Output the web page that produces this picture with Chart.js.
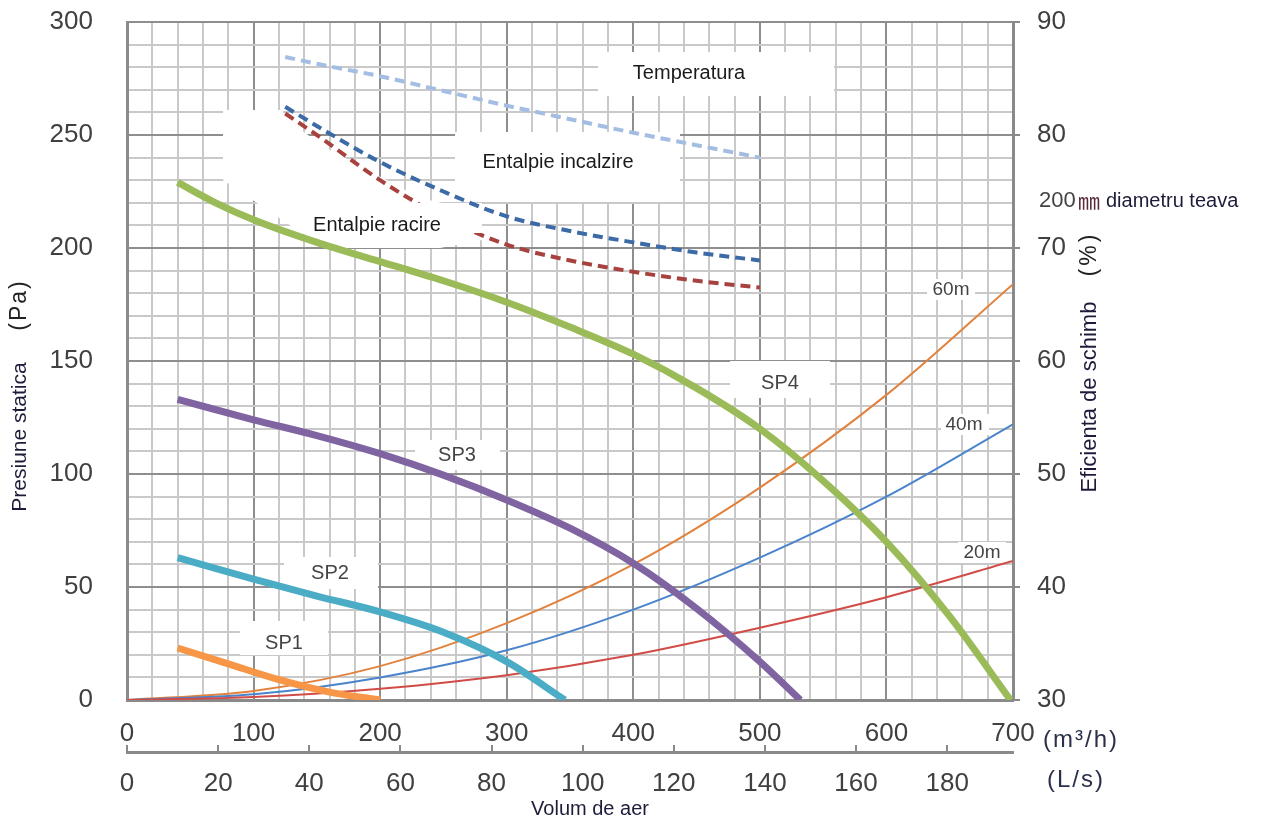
<!DOCTYPE html>
<html>
<head>
<meta charset="utf-8">
<script src="https://cdn.jsdelivr.net/npm/chart.js@4.4.1/dist/chart.umd.min.js"></script>
<style>
  html, body { margin: 0; padding: 0; background: #fff; }
  #wrap { width: 1267px; height: 819px; }
</style>
</head>
<body>
<div id="wrap"><canvas id="chart" width="1267" height="819"></canvas></div>
<script>
// ===================================================================
// date citite de pe grafic
// debit aer (m3/h) -> presiune statica (Pa)
const sp1Flow = [40, 80, 120, 160, 200];
const sp1Pa   = [23, 16, 9, 3.5, 0];
const sp2Flow = [40, 100, 150, 200, 250, 300, 346];
const sp2Pa   = [63, 53.5, 46, 39, 30, 17, 0];
const sp3Flow = [40, 100, 150, 200, 250, 300, 350, 400, 450, 500, 532];
const sp3Pa   = [133, 124, 117, 109, 99.5, 88.5, 76, 60.5, 40.5, 17, 0];
const sp4Flow = [40, 70, 100, 150, 200, 250, 300, 350, 400, 450, 500, 550, 600, 650, 698];
const sp4Pa   = [229, 220, 212.5, 202.5, 194, 185.5, 176, 165, 153, 138, 120, 97, 70, 37, 0];

// pierderi teava 200mm (Pa)
const pipeFlow = [0, 100, 200, 300, 400, 500, 600, 700];
const pipe20m  = [0, 1.3, 5, 11, 20, 32, 45.5, 61.5];
const pipe40m  = [0, 2.5, 10, 22, 40, 63, 90, 122];
const pipe60m  = [0, 4, 15, 34, 60, 94, 135, 184];

// eficienta de schimb (%)
const effFlow = [125, 150, 200, 250, 300, 350, 400, 450, 500];
const tempEff = [86.9, 86.3, 85.2, 83.9, 82.6, 81.4, 80.2, 79.1, 78];
const heatEff = [82.5, 80.8, 77.6, 75, 72.8, 71.5, 70.5, 69.6, 68.9];
const coolEff = [81.9, 80, 76, 72.7, 70.3, 68.9, 67.9, 67.1, 66.5];

// etichete axe
const paLabels   = [0, 50, 100, 150, 200, 250, 300];
const flowLabels = [0, 100, 200, 300, 400, 500, 600, 700];
const effLabels  = [30, 40, 50, 60, 70, 80, 90];
const lsLabels   = [0, 20, 40, 60, 80, 100, 120, 140, 160, 180];

const FONT = '"Liberation Sans", Arial, sans-serif';

function pts(xs, ys) {
  return xs.map(function(x, i) { return { x: x, y: ys[i] }; });
}

function solid(label, xs, ys, color, width) {
  return {
    label: label, data: pts(xs, ys), borderColor: color, borderWidth: width,
    pointRadius: 0, cubicInterpolationMode: 'monotone', fill: false,
    xAxisID: 'x', yAxisID: 'y'
  };
}

function dashed(label, xs, ys, color) {
  return {
    label: label, data: pts(xs, ys), borderColor: color, borderWidth: 4,
    borderDash: [10, 6], pointRadius: 0, cubicInterpolationMode: 'monotone',
    fill: false, xAxisID: 'x', yAxisID: 'y2'
  };
}

// ===================================================================
// casete albe si texte
function box(c, x, y, w, h) { c.fillRect(x, y, w, h); }

function text(c, str, x, y, size, color, align, spacing, family) {
  c.font = size + 'px ' + (family || FONT);
  c.fillStyle = color;
  c.textAlign = align || 'center';
  c.textBaseline = 'middle';
  c.letterSpacing = spacing || '0px';
  c.fillText(str, x, y);
  c.letterSpacing = '0px';
}

function vtext(c, str, x, y, size, color, spacing) {
  c.save();
  c.translate(x, y);
  c.rotate(-Math.PI / 2);
  text(c, str, 0, 0, size, color, 'center', spacing);
  c.restore();
}

const notes = {
  id: 'notes',
  beforeDatasetsDraw: function(chart) {
    const c = chart.ctx;
    c.save();
    c.fillStyle = '#fff';
    // pata alba din stanga sus
    c.beginPath();
    c.moveTo(223, 110); c.lineTo(283, 110); c.lineTo(283, 118);
    c.lineTo(330, 150); c.lineTo(420, 198); c.lineTo(482, 212);
    c.lineTo(482, 240); c.lineTo(440, 248); c.lineTo(330, 248);
    c.lineTo(300, 232); c.lineTo(223, 180);
    c.closePath(); c.fill();
    box(c, 598, 52, 236, 44);   // Temperatura
    box(c, 455, 132, 225, 70);  // Entalpie incalzire
    box(c, 730, 361, 100, 37);  // SP4
    box(c, 415, 440, 85, 30);   // SP3
    box(c, 284, 557, 94, 32);   // SP2
    box(c, 240, 621, 88, 34);   // SP1
    box(c, 927, 279, 48, 21);   // 60m
    box(c, 941, 414, 48, 21);   // 40m
    box(c, 958, 542, 48, 21);   // 20m
    c.restore();
  },
  afterDatasetDraw: function(chart, args) {
    if (args.index !== 9) return;
    // caseta peste linia de racire
    const c = chart.ctx;
    c.save();
    c.fillStyle = '#fff';
    box(c, 300, 203, 182, 30);
    c.restore();
  },
  afterDatasetsDraw: function(chart) {
    const c = chart.ctx;
    c.save();
    text(c, 'Temperatura', 689, 73, 20, '#1a1a1a');
    text(c, 'Entalpie incalzire', 558, 162, 20, '#1a1a1a');
    text(c, 'Entalpie racire', 377, 225, 20, '#1a1a1a');
    text(c, 'SP4', 780, 383, 20, '#444');
    text(c, 'SP3', 457, 455, 20, '#444');
    text(c, 'SP2', 330, 573, 20, '#444');
    text(c, 'SP1', 284, 643, 20, '#444');
    text(c, '60m', 951, 290, 19, '#444');
    text(c, '40m', 964, 425, 19, '#444');
    text(c, '20m', 982, 553, 19, '#444');
    c.restore();
  },
  afterDraw: function(chart) {
    const c = chart.ctx;
    c.save();
    vtext(c, '(Pa)', 20, 305, 23, '#222', '2px');
    vtext(c, 'Presiune statica', 20, 437, 21, '#1c1c3a');
    vtext(c, '(%)', 1090, 254, 23, '#222', '3px');
    vtext(c, 'Eficienta de schimb', 1090, 397, 22, '#1c1c3a');
    text(c, '200', 1039, 201, 22, '#444', 'left');
    text(c, '\u339C', 1078, 201, 22, '#5a2a3a', 'left', '0px', '"Noto Sans CJK SC", sans-serif');
    text(c, 'diametru teava', 1106, 201, 20, '#1c1c3a', 'left');
    text(c, '(m\u00B3/h)', 1043, 740, 24, '#2a2f4a', 'left', '2px');
    text(c, '(L/s)', 1047, 780, 24, '#2a2f4a', 'left', '2px');
    text(c, 'Volum de aer', 590, 809, 20, '#1c1c3a');
    c.restore();
  }
};

// ===================================================================
// grafic
function gridColor(major) {
  return function(ctx) {
    return ctx.tick && ctx.tick.value % major === 0 ? '#8e8e8e' : '#c9c9c9';
  };
}

function noPad(s) {
  s.paddingTop = 0; s.paddingBottom = 0; s.paddingLeft = 0; s.paddingRight = 0;
}

new Chart(document.getElementById('chart'), {
  type: 'line',
  data: {
    datasets: [
      solid('SP1', sp1Flow, sp1Pa, '#f79646', 7),
      solid('SP2', sp2Flow, sp2Pa, '#4bacc6', 7),
      solid('SP3', sp3Flow, sp3Pa, '#8064a2', 7),
      solid('SP4', sp4Flow, sp4Pa, '#9bbb59', 7),
      solid('20m', pipeFlow, pipe20m, '#d14b47', 2),
      solid('40m', pipeFlow, pipe40m, '#4a84cc', 2),
      solid('60m', pipeFlow, pipe60m, '#e2823d', 2),
      dashed('Temperatura', effFlow, tempEff, '#a4bde3'),
      dashed('Entalpie incalzire', effFlow, heatEff, '#3b6aa6'),
      dashed('Entalpie racire', effFlow, coolEff, '#a8423e')
    ]
  },
  options: {
    responsive: false,
    animation: false,
    devicePixelRatio: 1,
    layout: { padding: { top: 22, left: 0, right: 0, bottom: 0 } },
    plugins: { legend: { display: false }, tooltip: { enabled: false } },
    scales: {
      x: {
        type: 'linear', position: 'bottom', weight: 0, min: 0, max: 700,
        afterFit: function(s) { s.height = 52; noPad(s); },
        ticks: {
          stepSize: 20, maxTicksLimit: 1000, autoSkip: false, maxRotation: 0,
          padding: 18, color: '#404040', font: { family: FONT, size: 26 },
          callback: function(v) { return flowLabels.indexOf(v) >= 0 ? String(v) : ''; }
        },
        grid: { color: gridColor(100), lineWidth: 2, drawTicks: false },
        border: { color: '#8a8a8a', width: 3 }
      },
      x2: {
        type: 'linear', position: 'bottom', weight: 1, min: 0, max: 700 / 3.6,
        afterFit: function(s) { s.height = 67; noPad(s); },
        ticks: {
          stepSize: 20, maxTicksLimit: 1000, autoSkip: false, maxRotation: 0,
          includeBounds: false, padding: 23, color: '#404040',
          font: { family: FONT, size: 26 },
          callback: function(v) { return lsLabels.indexOf(v) >= 0 ? String(v) : ''; }
        },
        grid: { drawOnChartArea: false, drawTicks: true, tickLength: -7, color: '#8a8a8a', lineWidth: 2 },
        border: { color: '#8a8a8a', width: 3 }
      },
      y: {
        type: 'linear', position: 'left', min: 0, max: 300,
        afterFit: function(s) { s.width = 127; noPad(s); },
        ticks: {
          stepSize: 10, maxTicksLimit: 1000, autoSkip: false, padding: 34,
          color: '#404040', font: { family: FONT, size: 26 },
          callback: function(v) { return paLabels.indexOf(v) >= 0 ? String(v) : ''; }
        },
        grid: { color: gridColor(50), lineWidth: 2, drawTicks: false },
        border: { color: '#8a8a8a', width: 3 }
      },
      y2: {
        type: 'linear', position: 'right', min: 30, max: 90,
        afterFit: function(s) { s.width = 254; noPad(s); },
        ticks: {
          stepSize: 10, maxTicksLimit: 1000, autoSkip: false, padding: 17,
          color: '#404040', font: { family: FONT, size: 26 },
          callback: function(v) { return effLabels.indexOf(v) >= 0 ? String(v) : ''; }
        },
        grid: { drawOnChartArea: false, drawTicks: true, tickLength: 7, color: '#8a8a8a', lineWidth: 2 },
        border: { color: '#8a8a8a', width: 3 }
      }
    }
  },
  plugins: [notes]
});
</script>
</body>
</html>
